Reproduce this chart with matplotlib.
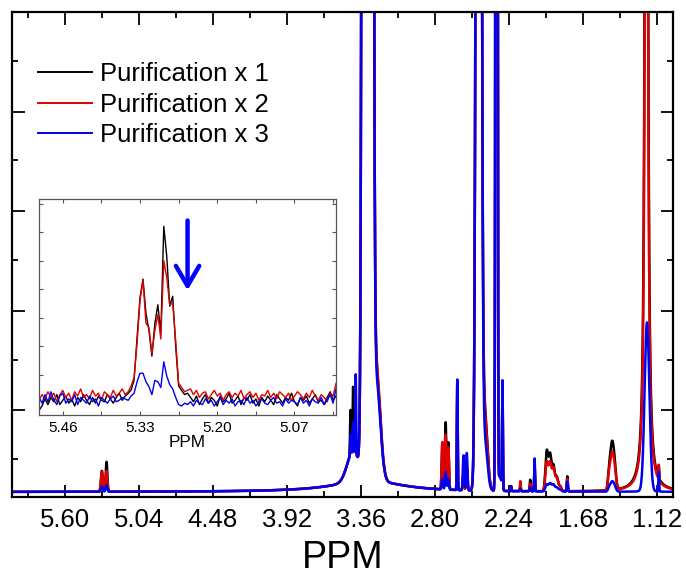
import numpy as np
import matplotlib.pyplot as plt

plt.rcParams['font.family'] = ['Liberation Sans', 'DejaVu Sans']

labels = ['Purification x 1', 'Purification x 2', 'Purification x 3']
colors = ['#000000', '#e00000', '#0000ee']

# main spectrum peak table: centre ppm, gaussian sigma, height per sample
peak_ppm = [5.32, 5.285, 3.31, 3.245, 3.42, 3.44, 3.42, 3.40, 2.745, 2.72, 2.70, 2.632,
            2.585, 2.56, 2.47, 2.425, 2.335, 2.31, 2.29, 2.225, 2.155, 2.08, 2.047,
            1.955, 1.93, 1.905, 1.88, 1.855, 1.80, 1.485, 1.465, 1.445, 1.197, 1.108]
peak_sigma = [0.007, 0.006, 0.017, 0.03, 0.045, 0.003, 0.003, 0.003, 0.005, 0.005, 0.005, 0.003,
              0.005, 0.005, 0.014, 0.02, 0.005, 0.012, 0.003, 0.002, 0.003, 0.004, 0.003,
              0.01, 0.01, 0.01, 0.01, 0.01, 0.004, 0.008, 0.012, 0.012, 0.018, 0.003]
h_x1 = [0.42, 0.60, 600, 2.2, 0.6, 0.9, 1.3, 0.5, 0.9, 1.35, 0.95, 2.1,
        0.3, 0.45, 50, 1.6, 80, 0.3, 2.0, 0.1, 0.1, 0.23, 0.5,
        0.8, 0.72, 0.5, 0.28, 0.1, 0.3, 0.3, 0.8, 0.55, 0.0, 0.25]
h_x2 = [0.40, 0.42, 600, 2.3, 0.6, 0.3, 0.5, 0.4, 0.95, 1.1, 0.85, 2.15,
        0.35, 0.5, 50, 1.5, 80, 0.3, 2.05, 0.1, 0.2, 0.15, 0.5,
        0.58, 0.56, 0.45, 0.26, 0.1, 0.25, 0.25, 0.62, 0.45, 0.0, 0.3]
h_x3 = [0.10, 0.14, 600, 2.0, 0.6, 0.4, 0.6, 1.6, 0.22, 0.35, 0.22, 2.22,
        0.7, 0.75, 50, 1.0, 80, 0.3, 2.15, 0.1, 0.05, 0.08, 0.66,
        0.14, 0.16, 0.14, 0.08, 0.04, 0.2, 0.06, 0.17, 0.12, 3.3, 0.4]

# lorentzian components: centre, half width, height per sample
lor_ppm = [3.31, 1.2017, 1.197]
lor_hw = [0.3, 0.007, 0.02]
lor_x1 = [0.24, 51, 0.0]
lor_x2 = [0.24, 44, 0.0]
lor_x3 = [0.24, 0.0, 0.1]

# inset trace, 5.50 -> 5.00 ppm in 0.005 steps
ins_x1 = [-0.25, -0.1, 0.15, -0.05, 0.2, 0.05, 0.3, -0.05, 0.1, 0.25, 0.0, 0.15, -0.1, 0.2, 0.05,
          0.3, 0.1, -0.05, 0.2, 0.0, 0.25, 0.1, 0.05, 0.3, 0.15, 0.0, 0.2, 0.35, 0.1, 0.25,
          0.34, 0.46, 0.81, 2.3, 3.7, 4.35, 3.15, 2.55, 1.65, 2.8, 3.45, 2.45, 6.2, 5.15, 3.4,
          3.75, 2.0, 0.6, 0.45, 0.3, 0.35,
          0.2, 0.05, 0.25, -0.05, 0.15, 0.3, 0.0, 0.2, 0.1, -0.1, 0.25, 0.05, 0.15, 0.35, 0.0,
          0.1, 0.25, -0.05, 0.2, 0.1, 0.3, 0.0, 0.15, -0.1, 0.2, 0.05, 0.25, 0.1, -0.05, 0.3,
          0.15, 0.0, 0.2, 0.1, 0.35, 0.05, -0.1, 0.2, 0.1, 0.25, 0.0, 0.15, 0.3, 0.05, 0.1,
          -0.05, 0.2, 0.4, 0.1, 0.25]
ins_x2 = [0.1, 0.3, 0.15, 0.4, 0.2, 0.35, 0.05, 0.3, 0.45, 0.2, 0.35, 0.1, 0.4, 0.25, 0.5,
          0.2, 0.3, 0.15, 0.45, 0.25, 0.35, 0.1, 0.4, 0.3, 0.2, 0.45, 0.25, 0.35, 0.5, 0.3,
          0.4, 0.6, 0.9, 2.1, 3.6, 4.3, 2.8, 2.65, 1.75, 2.55, 3.1, 2.25, 5.0, 4.4, 3.45,
          3.5, 2.2, 0.7, 0.55, 0.4, 0.45,
          0.5, 0.3, 0.45, 0.2, 0.35, 0.4, 0.15, 0.3, 0.45, 0.25, 0.35, 0.1, 0.3, 0.4, 0.2,
          0.35, 0.25, 0.45, 0.15, 0.3, 0.4, 0.2, 0.35, 0.1, 0.3, 0.25, 0.45, 0.2, 0.35, 0.15,
          0.4, 0.3, 0.2, 0.35, 0.1, 0.25, 0.4, 0.3, 0.15, 0.35, 0.2, 0.45, 0.25, 0.1, 0.3,
          0.2, 0.05, 0.35, 0.25, 0.7]
ins_x3 = [0.2, 0.0, 0.3, 0.05, 0.4, 0.1, -0.05, 0.25, 0.35, 0.0, 0.15, 0.05, 0.3, -0.05, 0.2,
          0.1, 0.0, 0.25, 0.05, 0.15, -0.1, 0.2, 0.1, 0.0, 0.15, 0.25, 0.05, 0.1, 0.2, 0.15,
          0.1, 0.25, 0.35, 0.75, 1.05, 1.05, 0.75, 0.58, 0.3, 0.8, 0.75, 0.55, 1.45, 0.95, 0.65,
          0.5, 0.2, -0.05, -0.1, 0.0, -0.05,
          0.05, -0.1, 0.1, 0.0, -0.05, 0.15, 0.0, 0.1, -0.1, 0.05, 0.2, -0.05, 0.1, 0.0, 0.15,
          -0.1, 0.05, 0.1, -0.05, 0.2, 0.0, 0.1, -0.1, 0.05, 0.15, 0.0, -0.05, 0.1, 0.2, 0.0,
          0.05, -0.1, 0.15, 0.0, 0.1, 0.05, -0.05, 0.2, 0.0, 0.1, -0.1, 0.15, 0.05, 0.0, 0.2,
          -0.05, 0.1, 0.3, 0.0, 0.5]

main_ticks = [5.60, 5.04, 4.48, 3.92, 3.36, 2.80, 2.24, 1.68, 1.12]
inset_ticks = [5.46, 5.33, 5.20, 5.07]

ppm = np.linspace(6.0, 1.0, 10001)


def spectrum(hg, hl):
    y = np.zeros_like(ppm)
    for c, s, h in zip(peak_ppm, peak_sigma, hg):
        y += h * np.exp(-0.5 * ((ppm - c) / s) ** 2)
    for c, w, h in zip(lor_ppm, lor_hw, hl):
        y += h * w ** 2 / ((ppm - c) ** 2 + w ** 2)
    return y


fig = plt.figure(figsize=(6.86, 5.75), dpi=100)
ax = fig.add_axes([0.0175, 0.1357, 0.9636, 0.8435])

for hg, hl, lab, col in zip([h_x1, h_x2, h_x3], [lor_x1, lor_x2, lor_x3], labels, colors):
    ax.plot(ppm, spectrum(hg, hl), color=col, lw=1.8, label=lab)

ax.set_xlim(6.0, 1.0)
ax.set_ylim(-0.1, 9.64)
ax.set_xticks(main_ticks)
ax.set_xticklabels(['%.2f' % t for t in main_ticks])
ax.set_xticks([t + 0.28 for t in main_ticks], minor=True)
ax.set_yticks([1.64, 3.64, 5.64, 7.64])
ax.set_yticks([0.66, 2.66, 4.66, 6.66, 8.66], minor=True)
ax.set_yticklabels([])
ax.tick_params(which='both', direction='in', top=True, right=True, width=1.3)
ax.tick_params(which='major', length=9)
ax.tick_params(which='minor', length=4.5)
ax.tick_params(axis='x', labelsize=18.5, pad=8)
for s in ax.spines.values():
    s.set_linewidth(1.6)
ax.set_xlabel('PPM', fontsize=27, labelpad=6)

leg = ax.legend(frameon=False, fontsize=18.5, loc='upper left', bbox_to_anchor=(0.04, 0.897),
                handlelength=2.1, handletextpad=0.3, labelspacing=0.26, borderaxespad=0, borderpad=0)
for ln in leg.get_lines():
    ln.set_linewidth(1.4)

# inset
axi = fig.add_axes([0.0569, 0.278, 0.433, 0.376])
ins_ppm = np.linspace(5.5, 5.0, 101)
for ys, col in zip([ins_x1, ins_x2, ins_x3], colors):
    axi.plot(ins_ppm, ys, color=col, lw=1.0)
axi.set_xlim(5.5, 5.0)
axi.set_ylim(-0.42, 7.16)
axi.set_xticks(inset_ticks)
axi.set_xticklabels(['%.2f' % t for t in inset_ticks])
axi.set_xticks([t - 0.065 for t in inset_ticks], minor=True)
axi.set_yticks(range(1, 8))
axi.set_yticklabels([])
axi.tick_params(which='both', direction='in', top=True, right=True, color='#555555',
                length=3, width=0.8, labelsize=11, pad=4)
for s in axi.spines.values():
    s.set_linewidth(0.9)
    s.set_color('#555555')
axi.set_xlabel('PPM', fontsize=12.3, labelpad=0)
axi.annotate('', xy=(5.25, 3.86), xytext=(5.25, 6.5),
             arrowprops=dict(arrowstyle='->,head_width=0.42,head_length=0.72',
                             mutation_scale=20, lw=3.2, color='#0000ff'))

fig.savefig('out.png', dpi=100)
